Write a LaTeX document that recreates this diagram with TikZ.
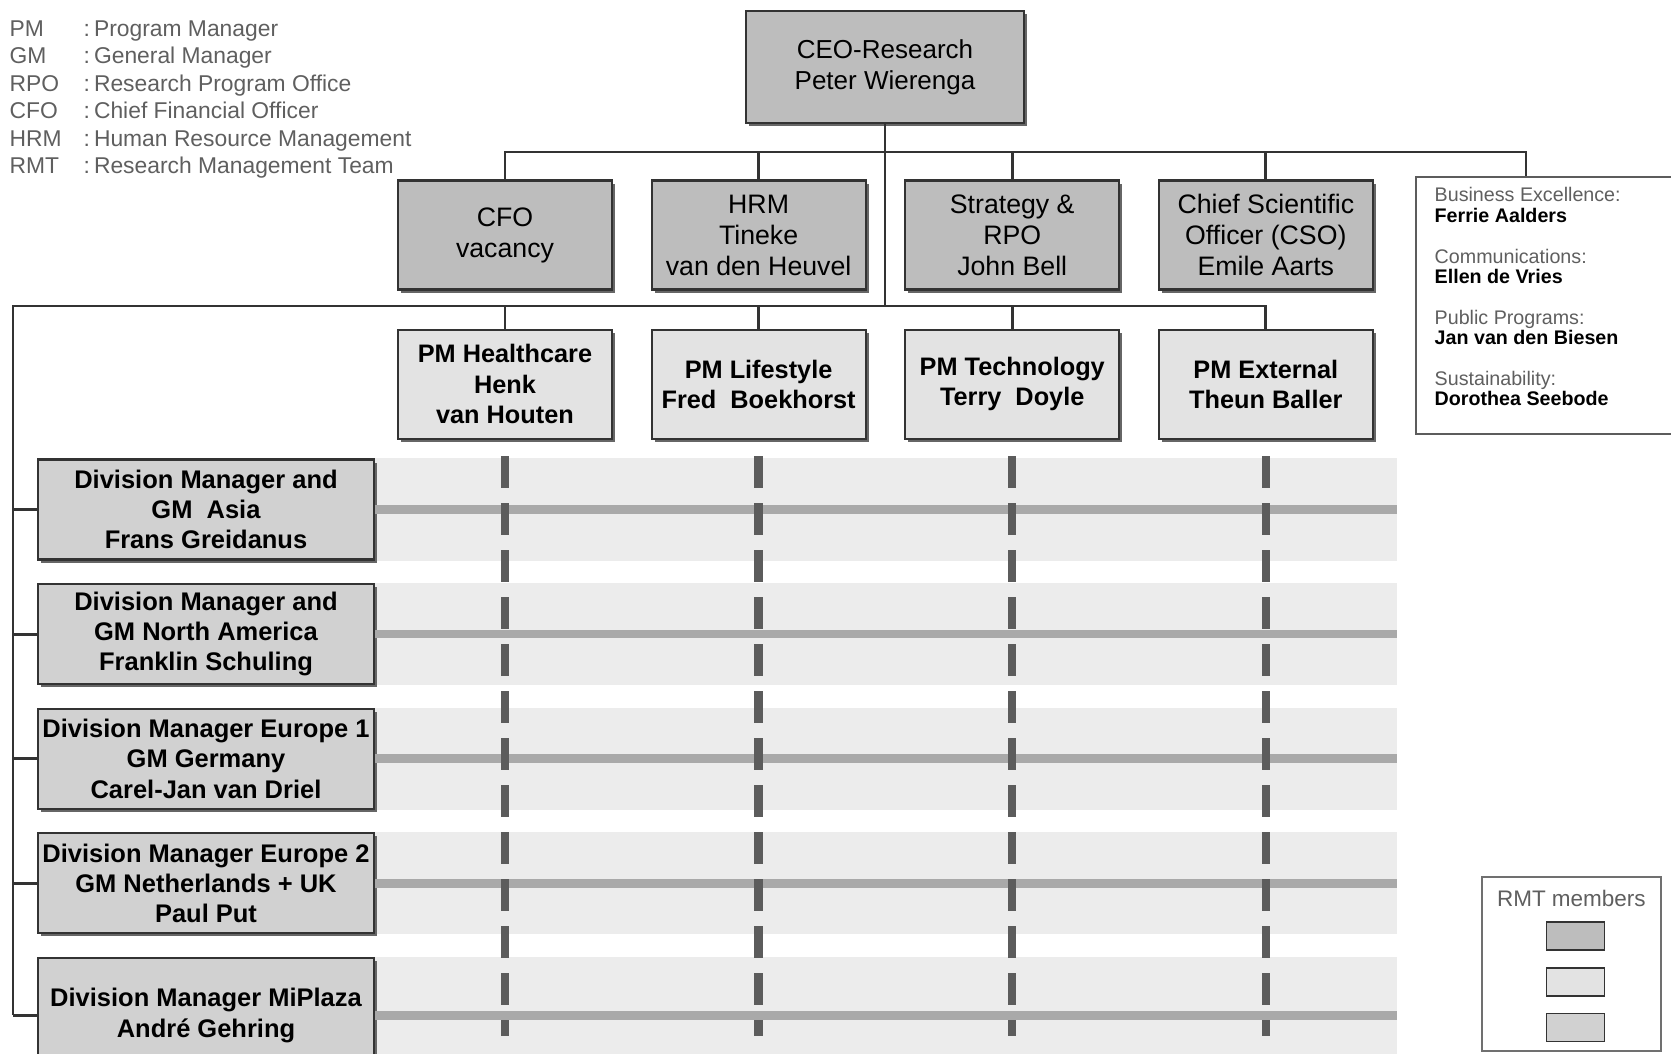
\documentclass[tikz,border=0pt]{standalone}
\usepackage{fontspec}
\setmainfont{Liberation Sans}
\usepackage{tikz}
\usepackage{xcolor}
\usetikzlibrary{positioning,calc,backgrounds,shadows}
\definecolor{RMTDark}{HTML}{BDBDBD}
\definecolor{RMTLight}{HTML}{E3E3E3}
\definecolor{RMTMid}{HTML}{D1D1D1}
\definecolor{BandGray}{HTML}{ECECEC}
\definecolor{BandLine}{HTML}{A9A9A9}
\definecolor{ProgGray}{HTML}{5C5C5C}
\definecolor{LineBlack}{HTML}{333333}
\definecolor{NoteGray}{HTML}{5F5F5F}
\tikzset{
    % Boxes of the management team
    board/.style={
        rectangle,
        draw=LineBlack,
        line width=0.6pt,
        fill=RMTDark,
        text=black,
        minimum width=21.4mm,
        minimum height=10.9mm,
        inner sep=1pt,
        align=center,
        font=\fontsize{7.6}{8.8}\selectfont,
        drop shadow={shadow xshift=0.3mm, shadow yshift=-0.3mm, fill=black!60, opacity=1}
    },
    board program/.style={
        board,
        fill=RMTLight,
        font=\fontsize{7.2}{8.6}\selectfont\bfseries
    },
    board division/.style={
        board,
        fill=RMTMid,
        minimum width=33.6mm,
        minimum height=10mm,
        font=\fontsize{7.25}{8.6}\selectfont\bfseries
    },
    connector/.style={
        draw=LineBlack,
        line width=0.8pt
    },
    row band/.style={
        fill=BandGray
    },
    row line/.style={
        draw=BandLine,
        line width=0.85mm
    },
    program line/.style={
        draw=ProgGray,
        line width=0.85mm,
        dash pattern=on 3.2mm off 1.5mm
    },
    legend item/.style={
        anchor=base west,
        inner sep=0pt,
        text=NoteGray,
        font=\fontsize{6.5}{7.8}\selectfont
    },
    office note/.style={
        anchor=north west,
        inner sep=0pt,
        align=left,
        font=\fontsize{5.6}{5.7}\selectfont
    },
    swatch/.style={
        rectangle,
        draw=LineBlack,
        line width=0.5pt,
        minimum width=5.8mm,
        minimum height=2.8mm,
        inner sep=0pt
    }
}

\begin{document}
\begin{tikzpicture}[x=1mm, y=1mm, node distance=3.75mm]
    \useasboundingbox (0,0) rectangle (167.1,-105.3);

    % Abbreviations
    \node[legend item] (lgpm) at (0.9,-3.6) {\makebox[7.4mm][l]{PM}:\hspace{0.4mm}Program Manager};
    \node[legend item] (lggm) at (0.9,-6.35) {\makebox[7.4mm][l]{GM}:\hspace{0.4mm}General Manager};
    \node[legend item] (lgrpo) at (0.9,-9.1) {\makebox[7.4mm][l]{RPO}:\hspace{0.4mm}Research Program Office};
    \node[legend item] (lgcfo) at (0.9,-11.85) {\makebox[7.4mm][l]{CFO}:\hspace{0.4mm}Chief Financial Officer};
    \node[legend item] (lghrm) at (0.9,-14.6) {\makebox[7.4mm][l]{HRM}:\hspace{0.4mm}Human Resource Management};
    \node[legend item] (lgrmt) at (0.9,-17.35) {\makebox[7.4mm][l]{RMT}:\hspace{0.4mm}Research Management Team};

    % CEO
    \node[board, minimum width=27.8mm, minimum height=11.2mm, font=\fontsize{7.4}{8.8}\selectfont]
          (ceo) at (88.5,-6.7) {CEO-Research\\Peter Wierenga};

    % Management team
    \node[board] (cfo) at (50.5,-23.5) {CFO\\vacancy};
    \node[board, right=of cfo] (hrm) {HRM\\Tineke\\van den Heuvel};
    \node[board, right=of hrm] (rpo) {Strategy \&\\RPO\\John Bell};
    \node[board, right=of rpo] (cso) {Chief Scientific\\Officer (CSO)\\Emile Aarts};

    % Staff
    \node[rectangle, draw=LineBlack!80, line width=0.6pt, fill=white, anchor=north west,
          minimum width=32mm, minimum height=25.7mm] (office) at (141.5,-17.6) {};
    \node[office note] (officetext) at ($(office.north west)+(1.9,-1.1)$)
          {{\color{NoteGray}Business Excellence:}\\\textbf{Ferrie Aalders}\\[2.1mm]
           {\color{NoteGray}Communications:}\\\textbf{Ellen de Vries}\\[2.1mm]
           {\color{NoteGray}Public Programs:}\\\textbf{Jan van den Biesen}\\[2.1mm]
           {\color{NoteGray}Sustainability:}\\\textbf{Dorothea Seebode}};

    % Program managers
    \node[board program, below=3.8mm of cfo] (pmhealth) {PM Healthcare\\Henk\\van Houten};
    \node[board program, right=of pmhealth] (pmlife) {PM Lifestyle\\Fred~~Boekhorst};
    \node[board program, right=of pmlife] (pmtech) {PM Technology\\Terry~~Doyle};
    \node[board program, right=of pmtech] (pmext) {PM External\\Theun Baller};

    % Divisions
    \node[board division] (divasia) at (20.6,-50.95) {Division Manager and\\GM~~Asia\\Frans Greidanus};
    \node[board division, below=2.25mm of divasia] (divna) {Division Manager and\\GM North America\\Franklin Schuling};
    \node[board division, below=2.25mm of divna] (diveu1) {Division Manager Europe 1\\GM Germany\\Carel-Jan van Driel};
    \node[board division, below=2.25mm of diveu1] (diveu2) {Division Manager Europe 2\\GM Netherlands + UK\\Paul Put};
    \node[board division, below=2.25mm of diveu2, minimum height=11.5mm] (divmi) {Division Manager MiPlaza\\André Gehring};

    % Reporting lines
    \coordinate (bus1) at (0,-15.2);
    \coordinate (spine) at (1.3,-30.6);
    \coordinate (officetap) at ($(office.north west)+(11.1,0)$);
    \draw[connector] (ceo.south) -- (ceo.south |- spine);
    \draw[connector] (cfo.north) -- (cfo.north |- bus1) -| (officetap);
    \draw[connector] (hrm.north) -- (hrm.north |- bus1);
    \draw[connector] (rpo.north) -- (rpo.north |- bus1);
    \draw[connector] (cso.north) -- (cso.north |- bus1);
    \draw[connector] (pmext.north) |- (spine) -- (spine |- divmi.west);
    \draw[connector] (pmhealth.north) -- (pmhealth.north |- spine);
    \draw[connector] (pmlife.north) -- (pmlife.north |- spine);
    \draw[connector] (pmtech.north) -- (pmtech.north |- spine);
    \draw[connector] (spine |- divasia.west) -- (divasia.west);
    \draw[connector] (spine |- divna.west) -- (divna.west);
    \draw[connector] (spine |- diveu1.west) -- (diveu1.west);
    \draw[connector] (spine |- diveu2.west) -- (diveu2.west);
    \draw[connector] (spine |- divmi.west) -- (divmi.west);

    % Matrix of divisions and programs
    \coordinate (bandend) at (139.7,0);
    \begin{scope}[on background layer]
        \fill[row band] (divasia.north east) rectangle (divasia.south -| bandend);
        \fill[row band] (divna.north east) rectangle (divna.south -| bandend);
        \fill[row band] (diveu1.north east) rectangle (diveu1.south -| bandend);
        \fill[row band] (diveu2.north east) rectangle (diveu2.south -| bandend);
        \fill[row band] (divmi.north east) rectangle (divmi.south -| bandend);
    \end{scope}
    \draw[row line] (divasia.east) -- (divasia.east -| bandend);
    \draw[row line] (divna.east) -- (divna.east -| bandend);
    \draw[row line] (diveu1.east) -- (diveu1.east -| bandend);
    \draw[row line] (diveu2.east) -- (diveu2.east -| bandend);
    \draw[row line] (divmi.east) -- (divmi.east -| bandend);

    \coordinate (matrixtop) at ([yshift=-1.65mm]pmhealth.south);
    \coordinate (matrixbottom) at ([yshift=-2.1mm]divmi.center);
    \draw[program line] (pmhealth.south |- matrixtop) -- (pmhealth.south |- matrixbottom);
    \draw[program line] (pmlife.south |- matrixtop) -- (pmlife.south |- matrixbottom);
    \draw[program line] (pmtech.south |- matrixtop) -- (pmtech.south |- matrixbottom);
    \draw[program line] (pmext.south |- matrixtop) -- (pmext.south |- matrixbottom);

    % RMT legend
    \node[rectangle, draw=LineBlack!70, line width=0.5pt, anchor=north west,
          minimum width=17.9mm, minimum height=17.4mm] (rmtlegend) at (148.1,-87.6) {};
    \node[font=\fontsize{6.4}{7.6}\selectfont, text=NoteGray, inner sep=0pt]
          (rmttitle) at ($(rmtlegend.north)+(0,-2.2)$) {RMT members};
    \node[swatch, fill=RMTDark] (swdark) at ($(rmtlegend.north)+(0.4,-6.0)$) {};
    \node[swatch, fill=RMTLight, below=1.6mm of swdark] (swlight) {};
    \node[swatch, fill=RMTMid, below=1.6mm of swlight] (swmid) {};
\end{tikzpicture}
\end{document}
